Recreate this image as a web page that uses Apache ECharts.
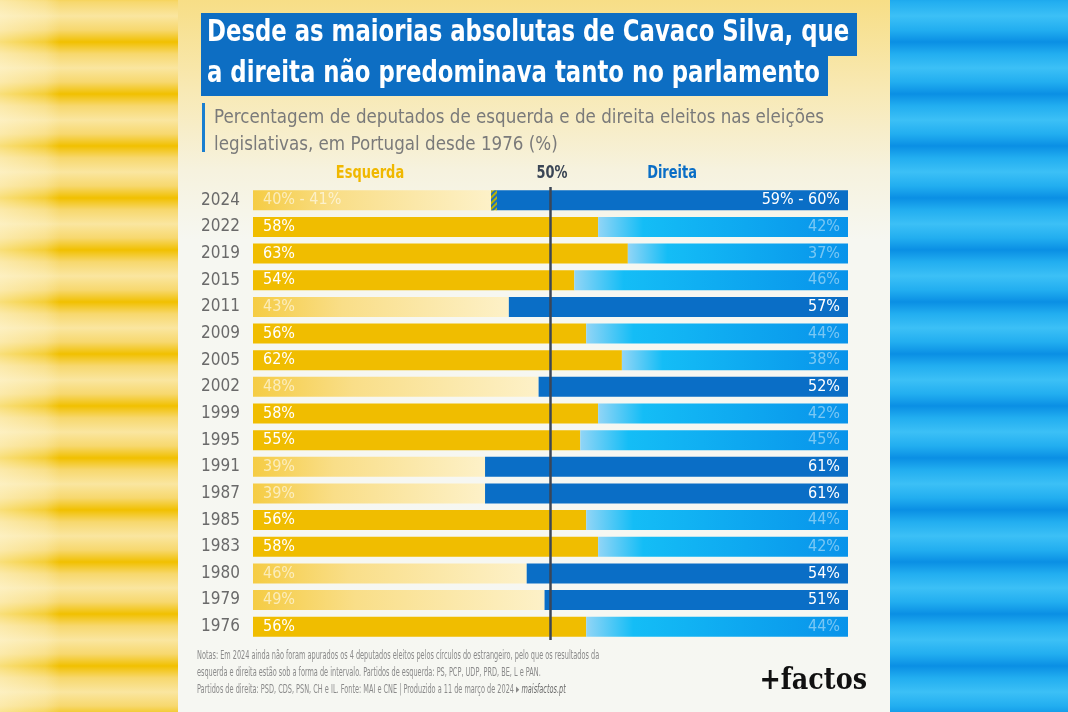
<!DOCTYPE html>
<html lang="pt">
<head>
    <meta charset="UTF-8">
    <title>Esquerda e direita no parlamento</title>
    <style>
        html, body {
            margin: 0;
            padding: 0;
        }
        body {
            width: 1068px;
            height: 712px;
            position: relative;
            overflow: hidden;
        }
        /* faixas laterais desfocadas */
        #esq-bg {
            position: absolute; left: 0; top: 0; width: 178px; height: 712px;
            background:
                linear-gradient(90deg, rgba(255,248,220,0.55) 0px, rgba(255,248,220,0.25) 45px, rgba(255,248,220,0) 60px),
                repeating-linear-gradient(180deg,
                    #fae6a0 16px, #f7d86e 30px, #f1c000 42px, #f7d86e 54px, #fae6a0 68px);
        }
        #dir-bg {
            position: absolute; left: 890px; top: 0; width: 178px; height: 712px;
            background: repeating-linear-gradient(180deg,
                #3cc0f6 16px, #22aef0 30px, #0a8fe4 42px, #22aef0 54px, #3cc0f6 68px);
        }
        #painel {
            position: absolute; left: 178px; top: 0; width: 712px; height: 712px;
            background: linear-gradient(180deg, #f7de86 0px, #f8e9b4 90px, #f6f2de 170px, #f6f7f1 240px, #f6f7f2 712px);
        }
        #main {
            position: absolute; left: 0; top: 0;
            width: 1068px;
            height: 712px;
        }
    </style>
</head>
<body>
<div id="esq-bg"></div>
<div id="dir-bg"></div>
<div id="painel"></div>
<div id="main"></div>
<script src="https://cdn.jsdelivr.net/npm/echarts@6/dist/echarts.min.js"></script>
<script>
    // dados (2024 em intervalo)
    const anos = ['2024', '2022', '2019', '2015', '2011', '2009', '2005', '2002', '1999',
        '1995', '1991', '1987', '1985', '1983', '1980', '1979', '1976'];
    const esquerda = [40, 58, 63, 54, 43, 56, 62, 48, 58, 55, 39, 39, 56, 58, 46, 49, 56];
    const intervalo = [1, 0, 0, 0, 0, 0, 0, 0, 0, 0, 0, 0, 0, 0, 0, 0, 0];
    const direita = [59, 42, 37, 46, 57, 44, 38, 52, 42, 45, 61, 61, 44, 42, 54, 51, 44];

    const FONTE = '"DejaVu Sans Condensed", "Liberation Sans Narrow", sans-serif';

    const douradoPalido = {
        type: 'linear', x: 0, y: 0, x2: 1, y2: 0,
        colorStops: [{offset: 0, color: '#f5cc44'}, {offset: 0.35, color: '#f9de88'}, {offset: 1, color: '#fdf1c8'}]
    };
    const azulClaro = {
        type: 'linear', x: 0, y: 0, x2: 1, y2: 0,
        colorStops: [{offset: 0, color: '#92d5f6'}, {offset: 0.18, color: '#14bdf6'}, {offset: 1, color: '#0893ea'}]
    };

    const txt = (v, i) => intervalo[i] ? v + '% - ' + (v + intervalo[i]) + '%' : v + '%';

    // esquerda: sólida se maioria, pálida caso contrário
    const dadosEsq = esquerda.map((v, i) => {
        const maioria = v > 50;
        return {
            value: v,
            itemStyle: {color: maioria ? '#f0bd00' : douradoPalido},
            label: {
                formatter: txt(v, i),
                color: maioria ? '#ffffff' : 'rgba(255,255,255,0.6)'
            }
        };
    });
    const dadosDir = direita.map((v, i) => {
        const maioria = v > 50;
        return {
            value: v,
            itemStyle: {color: maioria ? '#0a6ec6' : azulClaro},
            label: {
                formatter: txt(v, i),
                color: maioria ? '#ffffff' : 'rgba(255,255,255,0.45)'
            }
        };
    });

    const myChart = echarts.init(document.getElementById('main'));

    const option = {
        animation: false,
        backgroundColor: 'transparent',
        grid: {left: 253, right: 220, top: 187, bottom: 72, containLabel: false},
        xAxis: {type: 'value', min: 0, max: 100, show: false},
        yAxis: {
            type: 'category',
            data: anos,
            inverse: true,
            axisLine: {show: false},
            axisTick: {show: false},
            axisLabel: {color: '#6a6a6a', fontSize: 17, fontFamily: FONTE, margin: 13}
        },
        series: [
            {
                name: 'Esquerda',
                type: 'bar',
                stack: 'total',
                barWidth: 20,
                data: dadosEsq,
                label: {
                    show: true, position: 'insideLeft', distance: 10,
                    fontSize: 16, fontFamily: FONTE
                }
            },
            {
                name: 'Intervalo',
                type: 'bar',
                stack: 'total',
                barWidth: 20,
                data: intervalo,
                itemStyle: {
                    color: '#b9b300',
                    decal: {
                        symbol: 'rect',
                        color: '#1f6fb8',
                        dashArrayX: [1, 0],
                        dashArrayY: [2, 2],
                        rotation: -Math.PI / 4
                    }
                }
            },
            {
                name: 'Direita',
                type: 'bar',
                stack: 'total',
                barWidth: 20,
                data: dadosDir,
                label: {
                    show: true, position: 'insideRight', distance: 8,
                    fontSize: 16, fontFamily: FONTE
                },
                markLine: {
                    silent: true,
                    symbol: 'none',
                    label: {show: false},
                    lineStyle: {color: '#3b4656', width: 2.5, type: 'solid'},
                    data: [{xAxis: 50}]
                }
            }
        ],
        graphic: [
            // título em caixas azuis
            {type: 'rect', left: 201, top: 13, shape: {width: 656, height: 43}, style: {fill: '#0d6ec3'}},
            {type: 'rect', left: 201, top: 56, shape: {width: 627, height: 40}, style: {fill: '#0d6ec3'}},
            {
                type: 'text', x: 207, y: 18, scaleX: 0.845,
                style: {text: 'Desde as maiorias absolutas de Cavaco Silva, que', fill: '#fff',
                    font: 'bold 30px ' + FONTE}
            },
            {
                type: 'text', x: 207, y: 59, scaleX: 0.845,
                style: {text: 'a direita não predominava tanto no parlamento', fill: '#fff',
                    font: 'bold 30px ' + FONTE}
            },
            // subtítulo
            {type: 'rect', left: 202, top: 103, shape: {width: 3, height: 49}, style: {fill: '#1a7fd0'}},
            {
                type: 'text', x: 214, y: 104, scaleX: 0.93,
                style: {
                    text: 'Percentagem de deputados de esquerda e de direita eleitos nas eleições\nlegislativas, em Portugal desde 1976 (%)',
                    fill: '#7a7a7a', font: '20px ' + FONTE, lineHeight: 27
                }
            },
            // cabeçalhos
            {type: 'text', x: 370, y: 173, scaleX: 0.8, style: {text: 'Esquerda', fill: '#f0b800', font: 'bold 18px ' + FONTE, align: 'center', verticalAlign: 'middle'}},
            {type: 'text', x: 552, y: 173, scaleX: 0.8, style: {text: '50%', fill: '#3b4656', font: 'bold 18px ' + FONTE, align: 'center', verticalAlign: 'middle'}},
            {type: 'text', x: 672, y: 173, scaleX: 0.8, style: {text: 'Direita', fill: '#0a6ec6', font: 'bold 18px ' + FONTE, align: 'center', verticalAlign: 'middle'}},
            // notas
            {
                type: 'text', x: 197, y: 647, scaleX: 0.56,
                style: {
                    text: 'Notas: Em 2024 ainda não foram apurados os 4 deputados eleitos pelos círculos do estrangeiro, pelo que os resultados da\n' +
                        'esquerda e direita estão sob a forma de intervalo. Partidos de esquerda: PS, PCP, UDP, PRD, BE, L e PAN.\n' +
                        'Partidos de direita: PSD, CDS, PSN, CH e IL. Fonte: MAI e CNE | Produzido a 11 de março de 2024 ▸ {i|maisfactos.pt}',
                    fill: '#8a8a8a', font: '13px ' + FONTE, lineHeight: 17,
                    rich: {i: {fontStyle: 'italic', fontSize: 13, fontFamily: FONTE, fill: '#6a6a6a'}}
                }
            },
            // logótipo
            {
                type: 'text', x: 867, y: 681, scaleX: 0.85,
                style: {text: '+factos', fill: '#111', font: 'bold 30px "DejaVu Serif", serif', align: 'right', verticalAlign: 'middle'}
            }
        ]
    };

    myChart.setOption(option);
</script>
</body>
</html>
